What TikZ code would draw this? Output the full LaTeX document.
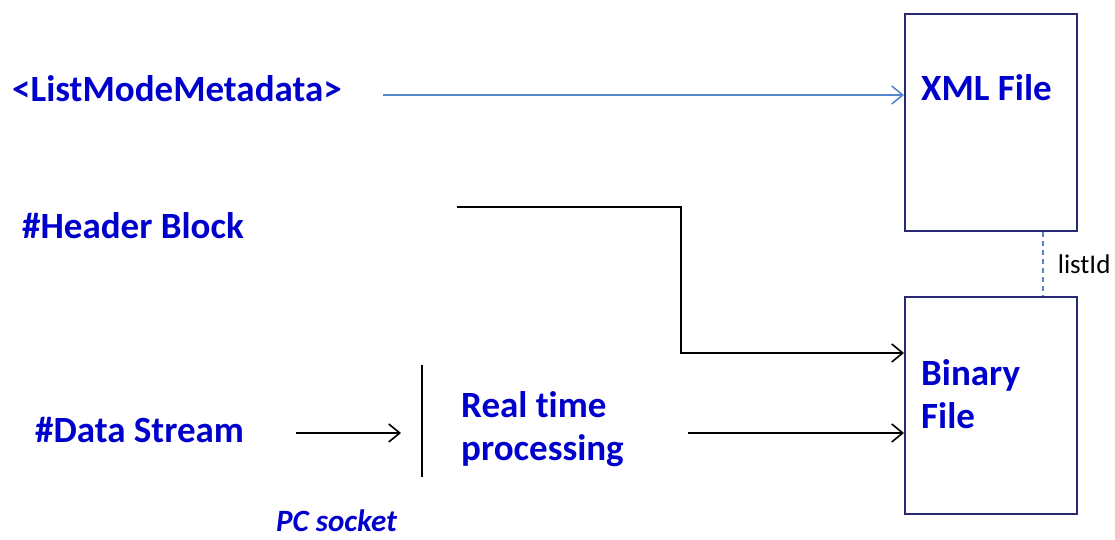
\documentclass[tikz,border=0pt]{standalone}
\usepackage{fontspec}
\setmainfont[Ligatures=NoCommon]{Carlito}
\usepackage{tikz}
\usetikzlibrary{arrows.meta}
\definecolor{txtblue}{RGB}{0,0,204}
\definecolor{boxblue}{RGB}{40,40,115}
\definecolor{lineblue}{RGB}{85,135,205}

\begin{document}
\begin{tikzpicture}[x=1pt,y=-1pt]
\tikzstyle{every node}+=[inner sep=0pt]
\tikzstyle{lbl}=[anchor=west,text=txtblue,font=\fontsize{37}{43}\selectfont\bfseries]
\tikzstyle{filebox}=[draw=boxblue,line width=2pt,minimum width=172pt,minimum height=217pt]
\tikzstyle{conn}=[line width=1.6pt,-{Straight Barb[length=11pt,width=18pt]}]
\useasboundingbox (0,0) rectangle (1115,540);
% files
\node [filebox] (xml) at (991,122.5) {};
\node [filebox] (binary) at (991,405) {};
\node [lbl] (xmltxt) at (921,88) {XML File};
\node [lbl,align=left] (bintxt) at (921,394) {Binary\\File};
% sources
\node [lbl] (meta) at (12,89) {<ListModeMetadata>};
\node [lbl] (header) at (22,226) {\#Header Block};
\node [lbl] (stream) at (35,430) {\#Data Stream};
\node [lbl,align=left] (rtp) at (461,429) {Real time\\processing};
\node [anchor=west,text=txtblue,font=\fontsize{31}{36}\selectfont\bfseries\itshape] (socket) at (276,521) {PC socket};
% connectors
\coordinate (metaout) at (383,95);
\coordinate (headout) at (457,207);
\coordinate (headturn) at (681,207);
\coordinate (streamout) at (296,433);
\coordinate (streamin) at (401,433);
\coordinate (bartop) at (422,365);
\coordinate (barbot) at (422,477);
\coordinate (rtpout) at (688,433);
\draw [conn,draw=lineblue] (metaout) -- (metaout -| xml.west);
\draw [conn] (headout) -- (headturn) |- ([yshift=52pt]binary.west);
\draw [conn] (streamout) -- (streamin);
\draw [line width=1.6pt] (bartop) -- (barbot);
\draw [conn] (rtpout) -- (rtpout -| binary.west);
\draw [lineblue,line width=1.6pt,dash pattern=on 5pt off 4pt] ([xshift=52pt]xml.south) -- ([xshift=52pt]binary.north)
  node [midway,right=14pt,text=black,font=\fontsize{27}{32}\selectfont] (listid) {listId};
\end{tikzpicture}
\end{document}
